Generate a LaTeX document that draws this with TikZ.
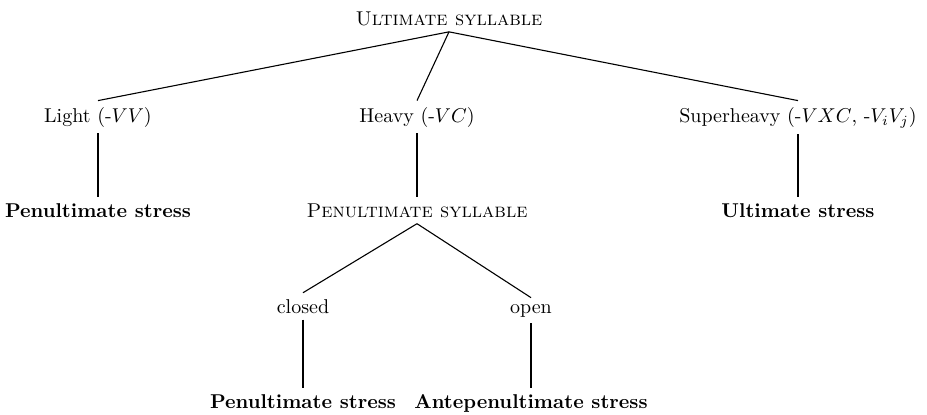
\documentclass[tikz,border=0pt]{standalone}
\begin{document}
\begin{tikzpicture}[x=0.5pt,y=-0.5pt,
  lab/.style={anchor=base,inner sep=3pt},
  edge/.style={line width=0.55pt}]
\useasboundingbox (0,0) rectangle (927,414);
\node[lab] (top) at (449,25) {\textsc{Ultimate syllable}};
\node[lab] (light) at (98,122) {Light (-$VV$)};
\node[lab] (heavy) at (417,122) {Heavy (-$VC$)};
\node[lab] (super) at (798,122) {Superheavy (-$VXC$, -$V_iV_j$)};
\node[lab] (pen1) at (98,217) {\textbf{Penultimate stress}};
\node[lab] (pensyl) at (417,217) {\textsc{Penultimate syllable}};
\node[lab] (ult) at (798,217) {\textbf{Ultimate stress}};
\node[lab] (closed) at (303,313) {closed};
\node[lab] (open) at (531,313) {open};
\node[lab] (pen2) at (303,408) {\textbf{Penultimate stress}};
\node[lab] (ante) at (531,408) {\textbf{Antepenultimate stress}};
\draw[edge] (top.south) -- (light.north);
\draw[edge] (top.south) -- (heavy.north);
\draw[edge] (top.south) -- (super.north);
\draw[edge] (light.south) -- (pen1.north);
\draw[edge] (heavy.south) -- (pensyl.north);
\draw[edge] (super.south) -- (ult.north);
\draw[edge] (pensyl.south) -- (closed.north);
\draw[edge] (pensyl.south) -- (open.north);
\draw[edge] (closed.south) -- (pen2.north);
\draw[edge] (open.south) -- (ante.north);
\end{tikzpicture}
\end{document}
